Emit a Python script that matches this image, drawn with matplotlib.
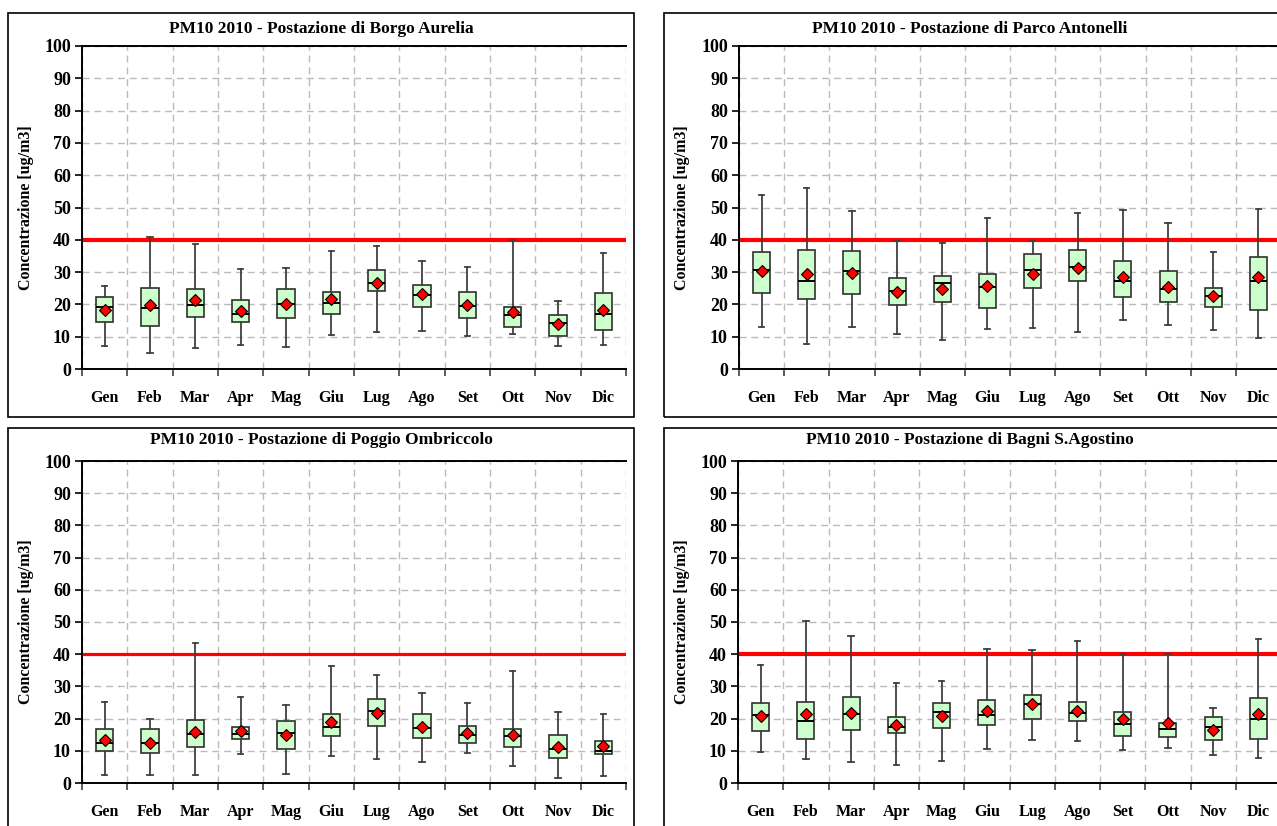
#!/usr/bin/env python3
"""PM10 2010 monthly box plots for the four monitoring sites."""
import matplotlib
matplotlib.use('Agg')
import matplotlib.pyplot as plt
from matplotlib.patches import Rectangle
import numpy as np

W, H = 1277, 826

MONTHS = ['Gen', 'Feb', 'Mar', 'Apr', 'Mag', 'Giu',
          'Lug', 'Ago', 'Set', 'Ott', 'Nov', 'Dic']
LIMIT = 40

# Borgo Aurelia
ba_low = [7.0, 4.9, 6.4, 7.5, 6.7, 10.4, 11.6, 11.8, 10.2, 10.7, 7.1, 7.3]
ba_q1 = [14.4, 13.2, 16.1, 14.4, 15.9, 17.0, 24.1, 19.2, 15.7, 13.1, 10.2, 12.2]
ba_med = [19.1, 19.0, 19.9, 17.1, 20.0, 20.4, 26.7, 23.0, 19.6, 16.8, 14.3, 17.1]
ba_mean = [18.3, 19.9, 21.3, 17.9, 20.1, 21.6, 26.7, 23.1, 19.8, 17.7, 14.0, 18.4]
ba_q3 = [22.4, 25.1, 24.7, 21.4, 24.9, 23.7, 30.7, 26.0, 23.7, 19.2, 16.6, 23.5]
ba_high = [25.7, 40.8, 38.7, 31.1, 31.4, 36.5, 38.1, 33.5, 31.7, 40.0, 21.1, 35.8]

# Parco Antonelli
pa_low = [13.1, 7.7, 13.1, 10.7, 9.0, 12.5, 12.7, 11.5, 15.3, 13.7, 12.1, 9.7]
pa_q1 = [23.6, 21.8, 23.2, 19.9, 20.7, 19.0, 25.1, 27.1, 22.4, 20.8, 19.2, 18.3]
pa_med = [30.6, 27.2, 30.4, 24.3, 26.5, 25.5, 30.6, 31.5, 27.1, 24.9, 22.5, 27.1]
pa_mean = [30.3, 29.3, 29.6, 23.9, 24.8, 25.8, 29.3, 31.3, 28.4, 25.4, 22.7, 28.4]
pa_q3 = [36.3, 36.8, 36.6, 28.2, 28.8, 29.4, 35.6, 36.9, 33.3, 30.2, 25.2, 34.8]
pa_high = [54.0, 56.1, 48.8, 39.6, 38.9, 46.8, 39.6, 48.2, 49.3, 45.1, 36.3, 49.6]

# Poggio Ombriccolo
po_low = [2.5, 2.5, 2.6, 8.9, 2.8, 8.4, 7.3, 6.5, 9.4, 5.2, 1.6, 2.2]
po_q1 = [10.0, 9.4, 11.2, 13.7, 10.7, 14.5, 17.6, 14.1, 12.3, 11.2, 7.7, 9.1]
po_med = [12.3, 12.3, 15.2, 15.2, 15.5, 17.4, 22.3, 17.0, 15.0, 14.7, 10.6, 10.0]
po_mean = [13.5, 12.3, 15.7, 16.1, 15.0, 18.8, 21.6, 17.5, 15.4, 15.0, 11.2, 11.4]
po_q3 = [16.9, 16.7, 19.5, 17.5, 19.3, 21.5, 26.1, 21.5, 17.7, 16.7, 14.9, 13.0]
po_high = [25.2, 19.8, 43.5, 26.7, 24.1, 36.3, 33.6, 27.8, 24.7, 34.9, 22.2, 21.4]

# Bagni S.Agostino
bs_low = [9.6, 7.5, 6.4, 5.6, 6.8, 10.6, 13.2, 13.0, 10.1, 10.9, 8.8, 7.9]
bs_q1 = [16.2, 13.8, 16.5, 15.4, 17.2, 17.9, 19.9, 19.2, 14.7, 14.2, 13.2, 13.6]
bs_med = [21.1, 19.3, 21.5, 17.4, 22.0, 21.2, 24.6, 21.8, 18.4, 16.7, 17.3, 20.0]
bs_mean = [20.9, 21.3, 21.8, 18.0, 20.7, 22.4, 24.4, 22.5, 19.8, 18.5, 16.4, 21.4]
bs_q3 = [24.9, 25.1, 26.8, 20.5, 24.8, 25.8, 27.4, 25.3, 22.2, 18.7, 20.4, 26.5]
bs_high = [36.5, 50.4, 45.5, 31.0, 31.6, 41.6, 41.4, 44.2, 40.0, 40.0, 23.2, 44.8]

TITLES = ['PM10 2010 - Postazione di Borgo Aurelia',
          'PM10 2010 - Postazione di Parco Antonelli',
          'PM10 2010 - Postazione di Poggio Ombriccolo',
          'PM10 2010 - Postazione di Bagni S.Agostino']


def make_stats(low, q1, med, mean, q3, high):
    return [dict(whislo=a, q1=b, med=c, mean=d, q3=e, whishi=f, fliers=[])
            for a, b, c, d, e, f in zip(low, q1, med, mean, q3, high)]


def px_rect(left, top, right, bottom):
    """Pixel box -> figure fraction [x, y, w, h]."""
    return [left / W, 1 - bottom / H, (right - left) / W, (bottom - top) / H]


def draw_panel(fig, ax_box, frame, title_xy, ylab_x, title, stats, limit_lw):
    # chart frame
    fl, ft, fr, fb = frame
    fig.patches.append(Rectangle((fl / W, 1 - fb / H), (fr - fl) / W, (fb - ft) / H,
                                 transform=fig.transFigure, fill=False,
                                 edgecolor='black', lw=1.2, zorder=0))
    fig.text(title_xy[0] / W, 1 - title_xy[1] / H, title, ha='center', va='center',
             fontsize=12.5, fontweight='bold')

    ax = fig.add_axes(px_rect(*ax_box))
    ax.set_axisbelow(True)
    pos = np.arange(1, len(MONTHS) + 1)
    ax.bxp(stats, positions=pos, widths=0.38, patch_artist=True,
           showmeans=True, showfliers=False,
           boxprops=dict(facecolor='#CCFFCC', edgecolor='#303030', lw=1.2),
           medianprops=dict(color='black', lw=1.4),
           whiskerprops=dict(color='#404040', lw=1.3),
           capprops=dict(color='#404040', lw=1.3),
           capwidths=0.12,
           meanprops=dict(marker='D', markerfacecolor='red',
                          markeredgecolor='black', markersize=6.5,
                          markeredgewidth=0.8))
    ax.axhline(LIMIT, color='red', lw=limit_lw, zorder=1.5)

    ax.set_xlim(0.5, len(MONTHS) + 0.5)
    ax.set_ylim(0, 100)
    ax.set_yticks(np.arange(0, 101, 10))
    ax.set_xticks(np.arange(0.5, len(MONTHS) + 1, 1))
    ax.set_xticklabels([])
    ax.set_xticks(pos, minor=True)
    ax.set_xticklabels(MONTHS, minor=True, fontsize=11.5, fontweight='bold')
    ax.tick_params(axis='x', which='minor', length=0, pad=15)
    ax.tick_params(axis='x', which='major', length=5, width=1.2, color='#404040')
    ax.tick_params(axis='y', length=5, width=1.2, pad=3, labelsize=13)
    for lab in ax.get_yticklabels():
        lab.set_fontweight('bold')

    ax.grid(True, which='major', color='#BBBBBB', lw=1, linestyle=(0, (5, 3.5)))
    for side in ('left', 'bottom', 'top'):
        ax.spines[side].set_color('black')
        ax.spines[side].set_linewidth(1.4)
    ax.spines['right'].set_visible(False)

    fig.text(ylab_x / W, 1 - (ax_box[1] + ax_box[3]) / 2 / H, 'Concentrazione [ug/m3]',
             rotation=90, ha='center', va='center', fontsize=11.5, fontweight='bold')
    return ax


def main():
    plt.rcParams['font.family'] = ['Liberation Serif', 'DejaVu Serif']
    fig = plt.figure(figsize=(W / 100, H / 100), dpi=100)

    panels = [
        ((82, 46, 626, 369), (8, 13, 634, 417), (321, 29), 26,
         make_stats(ba_low, ba_q1, ba_med, ba_mean, ba_q3, ba_high), 3.0),
        ((739, 46, 1281, 369), (664, 13, 1292, 417), (970, 29), 682,
         make_stats(pa_low, pa_q1, pa_med, pa_mean, pa_q3, pa_high), 3.0),
        ((82, 461, 626, 783), (8, 428, 634, 840), (321, 440), 26,
         make_stats(po_low, po_q1, po_med, po_mean, po_q3, po_high), 2.3),
        ((738, 461, 1281, 783), (664, 428, 1292, 840), (970, 440), 682,
         make_stats(bs_low, bs_q1, bs_med, bs_mean, bs_q3, bs_high), 3.0),
    ]
    for (ax_box, frame, txy, ylx, stats, lw), title in zip(panels, TITLES):
        draw_panel(fig, ax_box, frame, txy, ylx, title, stats, lw)

    fig.savefig('out.png', dpi=100, facecolor='white')
    plt.close(fig)


if __name__ == '__main__':
    main()
